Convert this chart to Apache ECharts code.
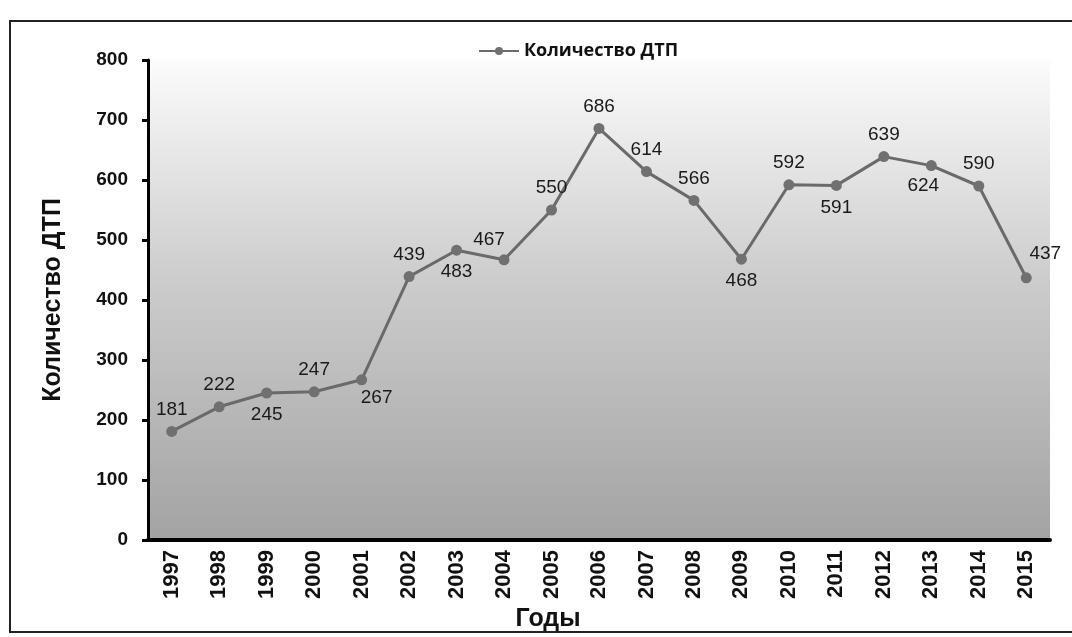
<!DOCTYPE html>
<html>
<head>
<meta charset="utf-8">
<script src="https://cdn.jsdelivr.net/npm/echarts@6/dist/echarts.min.js"></script>
<style>
html,body{margin:0;padding:0;background:#fff;}
#c{width:1072px;height:637px;}
</style>
</head>
<body>
<div id="c"></div>
<script>
const years = ['1997','1998','1999','2000','2001','2002','2003','2004','2005','2006','2007','2008','2009','2010','2011','2012','2013','2014','2015'];
const accidents = [181,222,245,247,267,439,483,467,550,686,614,566,468,592,591,639,624,590,437];
const yTicks = [0,100,200,300,400,500,600,700,800];
const seriesName = 'Количество ДТП';
const yAxisTitle = 'Количество ДТП';
const xAxisTitle = 'Годы';
// label placements (style only)
const labelPlace = ['top','top','bottom','top','bottomRight','top','bottom','topLeft','top','top','top','top','bottom','top','bottom','top','bottomLeft','top','topRight'];

const placeMap = {
  top: {position:'top', offset:[0,0]},
  bottom: {position:'bottom', offset:[0,0]},
  topLeft: {position:'top', offset:[-15,2]},
  topRight: {position:'top', offset:[19,-2]},
  bottomRight: {position:'bottom', offset:[15,-4]},
  bottomLeft: {position:'bottom', offset:[-8,-2]}
};

const chart = echarts.init(document.getElementById('c'));
chart.setOption({
  backgroundColor:'#ffffff',
  animation:false,
  graphic:[{type:'rect', shape:{x:10,y:21,width:1080,height:611}, style:{fill:'none', stroke:'#222', lineWidth:2}, z:-1}],
  legend:{
    top:37, left:473,
    itemWidth:40, itemHeight:10, itemGap:6,
    textStyle:{fontFamily:'Open Sans', fontWeight:700, fontSize:18, color:'#111'},
    data:[seriesName]
  },
  grid:{left:148, right:22, top:60, bottom:97, show:true, borderWidth:0,
    backgroundColor:{type:'linear', x:0,y:0,x2:0,y2:1, colorStops:[
      {offset:0,color:'#fcfcfc'},{offset:0.08,color:'#f3f3f3'},{offset:0.45,color:'#cdcdcd'},{offset:1,color:'#a3a3a3'}]}},
  xAxis:{
    type:'category', data:years, boundaryGap:true,
    name:xAxisTitle, nameLocation:'middle', nameGap:64,
    nameTextStyle:{fontFamily:'Liberation Sans', fontWeight:'bold', fontSize:25, color:'#111', padding:[0,102,0,0]},
    axisLine:{lineStyle:{color:'#000', width:4}},
    axisTick:{show:false},
    axisLabel:{rotate:90, fontFamily:'Liberation Sans', fontWeight:'bold', fontSize:22, color:'#111', margin:10}
  },
  yAxis:{
    type:'value', min:0, max:800, interval:100,
    name:yAxisTitle, nameLocation:'middle', nameGap:82, nameRotate:90,
    nameTextStyle:{fontFamily:'Liberation Sans', fontWeight:'bold', fontSize:25, color:'#111'},
    axisLine:{show:true, lineStyle:{color:'#000', width:3}},
    axisTick:{show:true, length:6, lineStyle:{color:'#000', width:3}},
    splitLine:{show:false},
    axisLabel:{fontFamily:'Liberation Sans', fontWeight:'bold', fontSize:19, color:'#111', margin:20,
      formatter:function(v){return yTicks.indexOf(v)>=0? String(v):'';}}
  },
  series:[{
    name:seriesName, type:'line', data:accidents.map(function(v,i){
      const p = placeMap[labelPlace[i]];
      return {value:v, label:{position:p.position, offset:p.offset}};
    }),
    symbol:'circle', symbolSize:11,
    lineStyle:{color:'#6a6a6a', width:3},
    itemStyle:{color:'#707070'},
    label:{show:true, fontFamily:'Liberation Sans', fontSize:19, color:'#1a1a1a', distance:7}
  }]
});
</script>
</body>
</html>
